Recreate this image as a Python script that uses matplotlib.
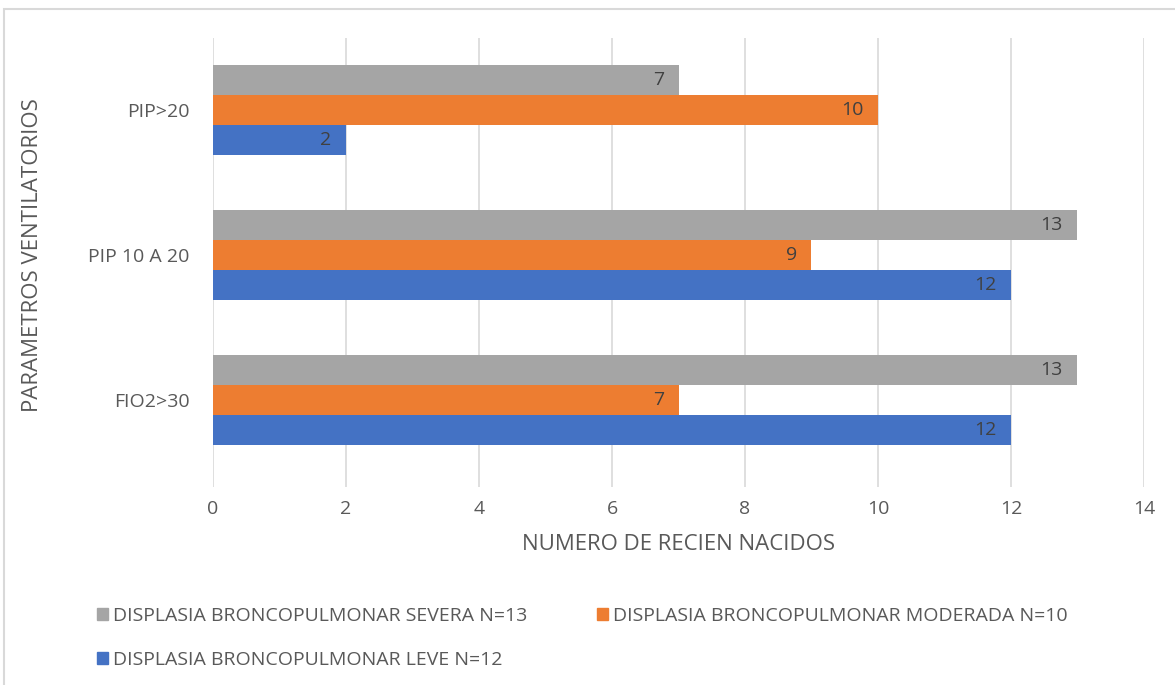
import numpy as np
import matplotlib.pyplot as plt
from matplotlib.patches import Rectangle, Patch

# data
categorias = ['FIO2>30', 'PIP 10 A 20', 'PIP>20']
leve = [12, 12, 2]
moderada = [7, 9, 10]
severa = [13, 13, 7]

series = [
    ('DISPLASIA BRONCOPULMONAR LEVE N=12', leve, '#4472C4'),
    ('DISPLASIA BRONCOPULMONAR MODERADA N=10', moderada, '#ED7D31'),
    ('DISPLASIA BRONCOPULMONAR SEVERA N=13', severa, '#A5A5A5'),
]

plt.rcParams['font.family'] = ['Open Sans', 'DejaVu Sans']
txt = '#595959'

fig = plt.figure(figsize=(11.75, 6.85), dpi=100)
ax = fig.add_axes([0.1813, 0.289, 0.7923, 0.6555])

# chart frame
fig.patches.append(Rectangle((0.003, -0.1), 1.2, 1.087, transform=fig.transFigure,
                             fill=False, edgecolor='#D9D9D9', linewidth=1.5))

y = np.arange(len(categorias))
h = 0.207
for i, (name, vals, col) in enumerate(series):
    pos = y + (i - 1) * h
    bars = ax.barh(pos, vals, height=h, color=col, zorder=2)
    for b, v in zip(bars, vals):
        ax.text(v - 0.22, b.get_y() + h / 2, str(v), ha='right', va='center',
                fontsize=14, color='#404040', zorder=3)

ax.set_xlim(0, 14)
ax.set_ylim(-0.6, 2.5)
ax.set_xticks(range(0, 15, 2))
ax.set_yticks(y)
ax.set_yticklabels(categorias)
ax.tick_params(length=0, labelsize=14, colors=txt)
ax.tick_params(axis='x', pad=9)
ax.tick_params(axis='y', pad=17)
ax.grid(axis='x', color='#D9D9D9', linewidth=1.2, zorder=0)
for s in ax.spines.values():
    s.set_visible(False)

ax.set_xlabel('NUMERO DE RECIEN NACIDOS', fontsize=16, color=txt, labelpad=12)
fig.text(0.028, 0.628, 'PARAMETROS VENTILATORIOS', rotation=90, ha='center', va='center',
         fontsize=16, color=txt)

order = [series[2], series[0], series[1]]
fig.legend([Patch(color=c) for _, _, c in order], [n for n, _, _ in order],
           loc='upper left', bbox_to_anchor=(0.068, 0.14), ncol=2, frameon=False,
           fontsize=14, labelcolor=txt, handlelength=0.55, handleheight=0.55,
           handletextpad=0.25, columnspacing=3.6, labelspacing=1.35)

fig.savefig('out.png', dpi=100)
